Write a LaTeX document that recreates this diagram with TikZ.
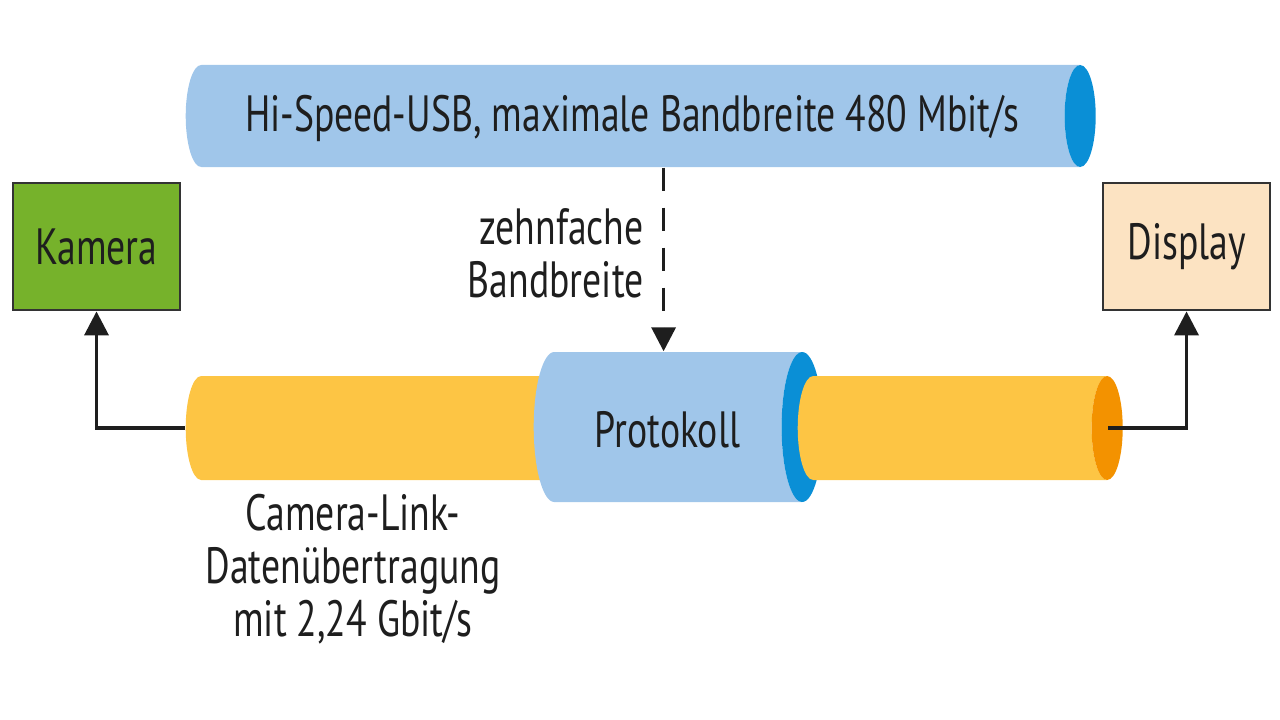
\documentclass[tikz,border=0pt]{standalone}
\usepackage{fontspec}
\setmainfont{PT Sans}[FakeStretch=0.74]
\usepackage{xcolor}
\definecolor{usbblue}{HTML}{A0C6EA}
\definecolor{rimblue}{HTML}{0A8FD6}
\definecolor{linkorange}{HTML}{FDC544}
\definecolor{rimorange}{HTML}{F39200}
\definecolor{camgreen}{HTML}{76B22B}
\definecolor{dispbeige}{HTML}{FCE3C2}
\definecolor{textdark}{HTML}{1E1E1E}
\usepackage{tikz}
\usetikzlibrary{shapes.geometric,arrows.meta,positioning}
\newcommand{\tfont}{\fontsize{14.5}{15}\selectfont}
\tikzset{
  tube/.style={cylinder, shape border rotate=0, cylinder uses custom fill,
               draw=none, inner sep=0pt, font=\tfont, text=textdark},
  usbtube/.style={tube, cylinder body fill=usbblue, cylinder end fill=rimblue},
  linktube/.style={tube, cylinder body fill=linkorange, cylinder end fill=rimorange},
  devbox/.style={rectangle, draw=black!80, line width=0.8pt,
               minimum width=1.67cm, minimum height=1.27cm,
               font=\tfont, text=textdark},
  tarr/.style={->, >={Triangle[length=2.4mm,width=2.4mm]}, line width=1pt, color=textdark},
  tdash/.style={tarr, dash pattern=on 2.3mm off 1.7mm},
  tlabel/.style={font=\tfont, text=textdark},
}
\begin{document}
\begin{tikzpicture}
  \useasboundingbox (0,0) rectangle (12.8,-7.19);

  % Devices
  \node[devbox, fill=camgreen]  (kamera)  at (0.965,-2.465)  {Kamera};
  \node[devbox, fill=dispbeige] (display) at (11.865,-2.465) {Display};

  % Tubes
  \node[usbtube, anchor=west, aspect=0.59, minimum height=9.10cm, minimum width=1.02cm]
    (usb) at (1.85,-1.16) {\strut\raisebox{-0.5mm}{Hi-Speed-USB, maximale Bandbreite 480 Mbit/s}};
  \node[linktube, anchor=west, aspect=0.59, minimum height=4.15cm, minimum width=1.04cm]
    (linkleft) at (1.85,-4.28) {\strut};
  \node[usbtube, anchor=west, aspect=0.78, minimum height=2.89cm, minimum width=1.50cm]
    (protokoll) at (5.33,-4.27) {\strut\raisebox{-1mm}{Protokoll}};
  \node[linktube, anchor=west, aspect=0.59, minimum height=3.25cm, minimum width=1.04cm]
    (linkright) at (7.97,-4.28) {\strut};

  % Arrows
  \draw[tdash] ([xshift=-0.4mm]protokoll.north |- usb.south) -- ([xshift=-0.4mm]protokoll.north);
  \draw[tarr] (linkleft.west) -| (kamera.south);
  \draw[tarr] ([xshift=-1.5mm]linkright.east) -| (display.south);

  % Labels
  \node[tlabel, align=right, anchor=east] (zehn) at (6.56,-2.53) {zehnfache\\Bandbreite};
  \node[tlabel, align=center] (camlink) at (3.53,-5.69)
    {Camera-Link-\\Datenübertragung\\mit 2,24 Gbit/s};
\end{tikzpicture}
\end{document}
